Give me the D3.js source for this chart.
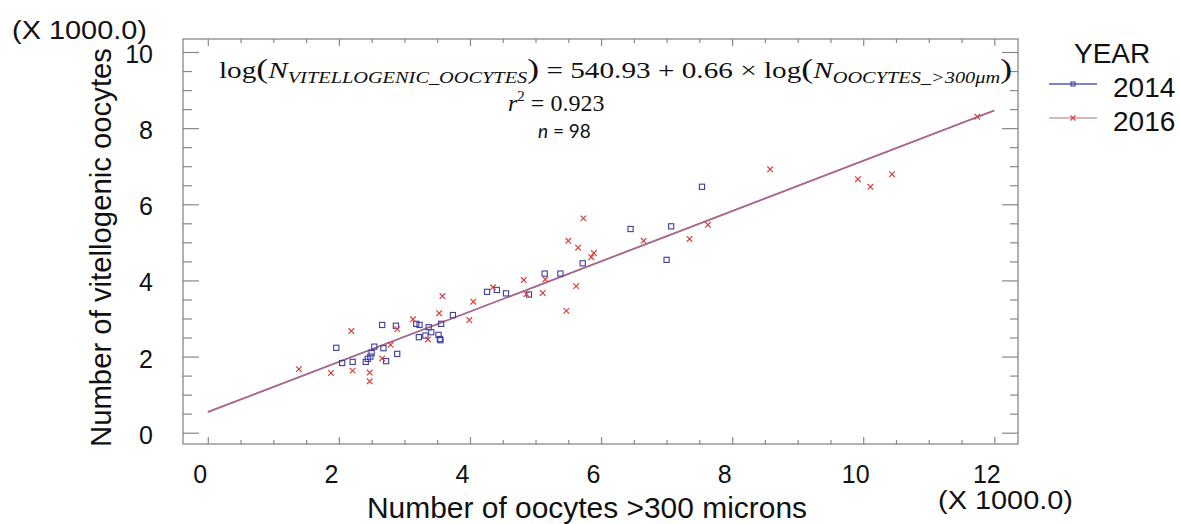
<!DOCTYPE html>
<html>
<head>
<meta charset="utf-8">
<script src="https://cdn.jsdelivr.net/npm/d3@7"></script>
<style>
body { margin: 0; background: #fff; }
svg { display: block; }
svg text { fill: #111; }
</style>
</head>
<body>
<svg id="chart" width="1180" height="524" font-family="Liberation Sans, Arial, sans-serif"></svg>
<script>
// values in thousands (axes say X 1000.0)
const x2014 = [1.96, 2.05, 2.21, 2.41, 2.44, 2.48, 2.50, 2.54, 2.66, 2.68, 2.72, 2.87, 2.89, 3.18, 3.23, 3.37, 3.56, 3.74,
    3.22, 3.32, 3.41, 3.52, 3.54, 3.55, 4.26, 4.41, 4.55, 4.90, 5.14, 5.38, 5.72, 6.45, 7.07, 7.00, 7.54];
const y2014 = [2.23, 1.83, 1.86, 1.86, 1.94, 2.00, 2.09, 2.26, 2.83, 2.22, 1.88, 2.81, 2.07, 2.86, 2.83, 2.77, 2.86, 3.09,
    2.51, 2.55, 2.64, 2.57, 2.46, 2.43, 3.70, 3.75, 3.66, 3.63, 4.18, 4.18, 4.45, 5.35, 5.42, 4.54, 6.46];
const x2016 = [1.39, 1.88, 2.19, 2.21, 2.47, 2.47, 2.66, 2.79, 2.89, 3.13, 3.36, 3.53, 3.99, 4.05, 3.58, 4.35, 4.82, 4.86,
    5.11, 5.15, 5.47, 5.50, 5.62, 5.65, 5.73, 5.85, 5.89, 6.65, 7.35, 7.63, 8.58, 9.92, 10.11, 10.44, 11.74];
const y2016 = [1.67, 1.57, 2.67, 1.63, 1.58, 1.35, 1.95, 2.31, 2.72, 2.98, 2.45, 3.14, 2.96, 3.44, 3.59, 3.82, 4.01, 3.64,
    3.67, 4.03, 3.20, 5.04, 3.85, 4.86, 5.63, 4.61, 4.72, 5.04, 5.09, 5.46, 6.92, 6.66, 6.46, 6.79, 8.30];

const xTickLabels = ["0", "2", "4", "6", "8", "10", "12"];
const yTickLabels = ["0", "2", "4", "6", "8", "10"];
const fitRange = [0, 12];
const fitIntercept = 0.54093;
const fitSlope = 0.66;
const legendYears = ["2014", "2016"];

const axisGrey = "#888";
const blue = "#3d3d9e";
const red = "#d8403e";
const serif = "'Liberation Serif', 'DejaVu Serif', serif";

const svg = d3.select("#chart");
const box = {left: 183, right: 1018, top: 39, bottom: 444};

const x = d3.scaleLinear().domain([0, 12]).range([207.8, 994.3]);
const y = d3.scaleLinear().domain([0, 10]).range([432.7, 52]);

const xMajor = d3.range(0, 12.01, 2);
const xMinor = d3.range(0, 12.01, 0.5).filter(v => v % 2 !== 0);
const yMajor = d3.range(0, 10.01, 2);
const yMinor = d3.range(0, 10.01, 0.5).filter(v => v % 2 !== 0);

function styleAxis(g) {
    g.select(".domain").remove();
    g.selectAll(".tick line").attr("stroke", axisGrey).attr("stroke-width", 1.2);
}

// frame
svg.append("rect")
    .attr("x", box.left).attr("y", box.top)
    .attr("width", box.right - box.left).attr("height", box.bottom - box.top)
    .attr("fill", "none").attr("stroke", axisGrey).attr("stroke-width", 1.3);

// bottom
svg.append("g").attr("transform", `translate(0,${box.bottom})`)
    .call(d3.axisBottom(x).tickValues(xMinor).tickSize(-4).tickFormat(""))
    .call(styleAxis);
const xAx = svg.append("g").attr("transform", `translate(0,${box.bottom})`)
    .call(d3.axisBottom(x).tickValues(xMajor).tickSize(-7).tickFormat((d, i) => xTickLabels[i]))
    .call(styleAxis);
xAx.selectAll(".tick text")
    .attr("y", 39).attr("dy", 0).attr("dx", -8)
    .style("font-size", "25px").style("font-family", "Liberation Sans, Arial, sans-serif").attr("fill", "#111");

// top
svg.append("g").attr("transform", `translate(0,${box.top})`)
    .call(d3.axisTop(x).tickValues(xMinor).tickSize(-4).tickFormat(""))
    .call(styleAxis);
svg.append("g").attr("transform", `translate(0,${box.top})`)
    .call(d3.axisTop(x).tickValues(xMajor).tickSize(-7).tickFormat(""))
    .call(styleAxis);

// left
svg.append("g").attr("transform", `translate(${box.left},0)`)
    .call(d3.axisLeft(y).tickValues(yMinor).tickSize(-9).tickFormat(""))
    .call(styleAxis);
const yAx = svg.append("g").attr("transform", `translate(${box.left},0)`)
    .call(d3.axisLeft(y).tickValues(yMajor).tickSize(-16).tickFormat((d, i) => yTickLabels[i]))
    .call(styleAxis);
yAx.selectAll(".tick text")
    .attr("x", -30).attr("dy", "0.42em")
    .style("font-size", "25px").style("font-family", "Liberation Sans, Arial, sans-serif").attr("fill", "#111");

// right
svg.append("g").attr("transform", `translate(${box.right},0)`)
    .call(d3.axisRight(y).tickValues(yMinor).tickSize(-8).tickFormat(""))
    .call(styleAxis);
svg.append("g").attr("transform", `translate(${box.right},0)`)
    .call(d3.axisRight(y).tickValues(yMajor).tickSize(-16).tickFormat(""))
    .call(styleAxis);

// axis titles and multipliers
svg.append("text").attr("x", 12).attr("y", 39)
    .style("font-size", "25px").attr("textLength", 135).attr("lengthAdjust", "spacingAndGlyphs")
    .text("(X 1000.0)");
svg.append("text").attr("x", 938).attr("y", 509)
    .style("font-size", "25px").attr("textLength", 135).attr("lengthAdjust", "spacingAndGlyphs")
    .text("(X 1000.0)");
svg.append("text").attr("x", 367).attr("y", 518)
    .style("font-size", "29px").attr("textLength", 440).attr("lengthAdjust", "spacingAndGlyphs")
    .text("Number of oocytes >300 microns");
svg.append("text").attr("transform", "translate(111,447) rotate(-90)")
    .style("font-size", "29px").attr("textLength", 399).attr("lengthAdjust", "spacingAndGlyphs")
    .text("Number of vitellogenic oocytes");

// fitted line, drawn once per year so the two colours blend
const fitLine = d3.line().x(d => x(d)).y(d => y(fitIntercept + fitSlope * d));
svg.append("path").datum(fitRange).attr("d", fitLine)
    .attr("fill", "none").attr("stroke", blue).attr("stroke-width", 1.6).attr("stroke-opacity", 0.8);
svg.append("path").datum(fitRange).attr("d", fitLine)
    .attr("fill", "none").attr("stroke", "#cc6478").attr("stroke-width", 1.6).attr("stroke-opacity", 0.75);

// points
const pts2014 = x2014.map((v, i) => ({x: v, y: y2014[i]}));
const pts2016 = x2016.map((v, i) => ({x: v, y: y2016[i]}));

svg.append("g").selectAll("rect").data(pts2014).join("rect")
    .attr("x", d => x(d.x) - 2.6).attr("y", d => y(d.y) - 2.6)
    .attr("width", 5.2).attr("height", 5.2)
    .attr("fill", "none").attr("stroke", blue).attr("stroke-width", 1.1);

function crossPath(cx, cy, r) {
    return `M${cx - r},${cy - r}L${cx + r},${cy + r}M${cx - r},${cy + r}L${cx + r},${cy - r}`;
}
svg.append("g").selectAll("path").data(pts2016).join("path")
    .attr("d", d => crossPath(x(d.x), y(d.y), 2.8))
    .attr("fill", "none").attr("stroke", red).attr("stroke-width", 1.2);

// equation
const eq = svg.append("text").attr("x", 219).attr("y", 78)
    .style("font-family", serif).style("font-size", "23px")
    .attr("textLength", 793).attr("lengthAdjust", "spacingAndGlyphs");
eq.append("tspan").text("log");
eq.append("tspan").style("font-size", "28px").text("(");
eq.append("tspan").style("font-style", "italic").text("N");
eq.append("tspan").style("font-style", "italic").style("font-size", "16px").attr("dy", 5).text("VITELLOGENIC_OOCYTES");
eq.append("tspan").style("font-size", "28px").attr("dy", -5).text(")");
eq.append("tspan").text(" = 540.93 + 0.66 × log");
eq.append("tspan").style("font-size", "28px").text("(");
eq.append("tspan").style("font-style", "italic").text("N");
eq.append("tspan").style("font-style", "italic").style("font-size", "16px").attr("dy", 5).text("OOCYTES_>300μm");
eq.append("tspan").style("font-size", "28px").attr("dy", -5).text(")");

const r2 = svg.append("text").attr("x", 508).attr("y", 111)
    .style("font-family", serif).style("font-size", "24px");
r2.append("tspan").style("font-style", "italic").text("r");
r2.append("tspan").style("font-size", "15px").attr("dy", -10).text("2");
r2.append("tspan").attr("dy", 10).text(" = 0.923");

const nn = svg.append("text").attr("x", 538).attr("y", 138)
    .style("font-family", "Lato, 'Open Sans', sans-serif").style("font-size", "19px");
nn.append("tspan").style("font-style", "italic").text("n");
nn.append("tspan").text(" = 98");

// legend
const legend = svg.append("g");
legend.append("text").attr("x", 1074).attr("y", 63).style("font-size", "28px").text("YEAR");
const lineColors = ["#5a5aa8", "#c9a3a3"];
legendYears.forEach((yr, i) => {
    const ly = 84 + i * 34;
    legend.append("line").attr("x1", 1049).attr("x2", 1097).attr("y1", ly).attr("y2", ly)
        .attr("stroke", lineColors[i]).attr("stroke-width", 1.5);
    if (i === 0) {
        legend.append("rect").attr("x", 1071).attr("y", ly - 2).attr("width", 4).attr("height", 4)
            .attr("fill", "none").attr("stroke", blue).attr("stroke-width", 1.1);
    } else {
        legend.append("path").attr("d", crossPath(1073, ly, 2.5))
            .attr("fill", "none").attr("stroke", red).attr("stroke-width", 1.2);
    }
    legend.append("text").attr("x", 1113).attr("y", ly + 13).style("font-size", "28px").text(yr);
});
</script>
</body>
</html>
